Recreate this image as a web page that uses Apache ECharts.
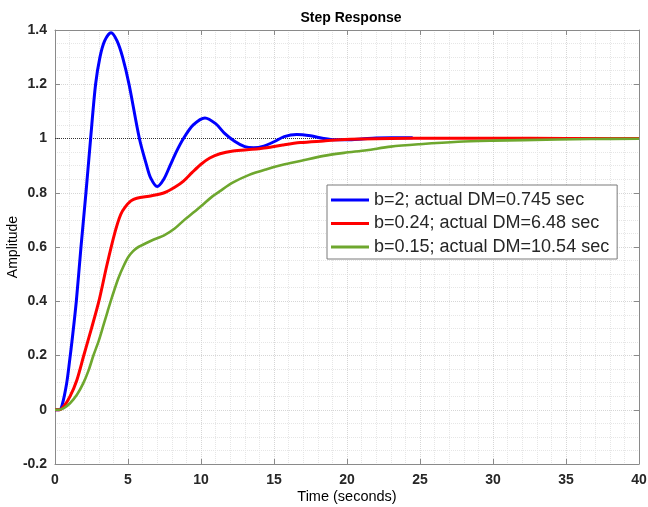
<!DOCTYPE html>
<html>
<head>
<meta charset="utf-8">
<script src="https://cdn.jsdelivr.net/npm/echarts@6/dist/echarts.min.js"></script>
<style>
  html, body { margin: 0; padding: 0; background: #fff; }
  #container1 { width: 648px; height: 507px; }
</style>
</head>
<body>
<div id="container1"></div>
<script>
// step response values, [time, amplitude]
var blueData = [
  [0, 0], [0.3, 0], [0.5, 0.02], [0.8, 0.098], [1.0, 0.18], [1.2, 0.27], [1.46, 0.4],
  [1.78, 0.6], [2.12, 0.8], [2.44, 1.0], [2.78, 1.2], [3.08, 1.3], [3.4, 1.36],
  [3.84, 1.39], [4.25, 1.36], [4.63, 1.3], [5.07, 1.2], [5.78, 1.0], [6.28, 0.9],
  [6.55, 0.855], [7.0, 0.823], [7.45, 0.85], [7.88, 0.9], [8.3, 0.95], [8.8, 1.0],
  [9.47, 1.05], [10.27, 1.076], [11.0, 1.055], [11.6, 1.02], [12.3, 0.99], [13.0, 0.97],
  [13.6, 0.966], [14.3, 0.972], [15.0, 0.988], [15.7, 1.007], [16.55, 1.015],
  [17.5, 1.01], [18.4, 1.0], [19.2, 0.995], [20.0, 0.995], [21, 0.998],
  [22, 1.002], [23, 1.003], [24.5, 1.003]
];
var redData = [
  [0, 0], [0.3, 0], [0.6, 0.012], [1.03, 0.049], [1.5, 0.11], [1.97, 0.2], [2.5, 0.3],
  [3.05, 0.41], [3.54, 0.53], [4.11, 0.655], [4.5, 0.72], [4.79, 0.746], [5.2, 0.77],
  [5.6, 0.78], [6.62, 0.789], [7.53, 0.801], [8.2, 0.82], [8.8, 0.843], [9.4, 0.875],
  [10, 0.905], [10.6, 0.928], [11.3, 0.944], [12.2, 0.954], [13.5, 0.96], [14.5, 0.966],
  [15.6, 0.976], [16.8, 0.985], [18.4, 0.991], [19.5, 0.995], [21, 0.998], [23, 1.0],
  [26, 1.001], [30, 1.001], [35, 1.0], [40, 1.0]
];
var greenData = [
  [0, 0], [0.3, 0], [0.6, 0.006], [1.03, 0.024], [1.5, 0.055], [1.94, 0.098],
  [2.3, 0.145], [2.63, 0.2], [3.0, 0.255], [3.31, 0.31], [3.6, 0.362], [3.92, 0.418],
  [4.34, 0.485], [4.7, 0.53], [5.02, 0.563], [5.35, 0.585], [5.71, 0.6], [6.62, 0.624],
  [7.53, 0.645], [8.2, 0.668], [8.86, 0.7], [9.5, 0.728], [10.16, 0.758], [10.7, 0.783],
  [11.3, 0.806], [12.2, 0.838], [13.3, 0.866], [14.5, 0.887], [15.6, 0.903],
  [16.8, 0.917], [18.4, 0.936], [19.8, 0.947], [21.35, 0.957], [23, 0.97], [25, 0.979],
  [27.6, 0.988], [30, 0.992], [32.1, 0.994], [36.7, 0.998], [40, 0.999]
];
var steadyState = [[0, 1], [40, 1]];
var seriesNames = [
  'b=2; actual DM=0.745 sec',
  'b=0.24; actual DM=6.48 sec',
  'b=0.15; actual DM=10.54 sec'
];

var dom = document.getElementById("container1");
var myChart = echarts.init(dom);
var axisCol = '#8a8a8a';
var fontFam = 'Liberation Sans, Arial, sans-serif';
var labelStyle = { color: '#262626', fontWeight: 'bold', fontSize: 14, fontFamily: fontFam };

function frameAxis(extra) {
  return Object.assign({
    type: 'value',
    axisLine: { show: true, onZero: false, lineStyle: { color: axisCol, width: 1 } },
    axisTick: { show: true, inside: true, length: 5, lineStyle: { color: axisCol } },
    splitLine: { show: false },
    axisLabel: { show: false }
  }, extra);
}

var option = {
  animation: false,
  title: {
    text: 'Step Response',
    left: 346,
    textAlign: 'center',
    top: 6,
    textStyle: { fontSize: 14, fontWeight: 'bold', color: '#000', fontFamily: fontFam }
  },
  grid: { left: 55, right: 9, top: 30, bottom: 43, outerBoundsMode: 'none' },
  legend: {
    left: 327,
    top: 185,
    orient: 'vertical',
    data: seriesNames,
    icon: 'rect',
    itemWidth: 38,
    itemHeight: 3,
    itemGap: 5.5,
    padding: [6, 8, 3, 4],
    backgroundColor: '#fff',
    borderColor: '#7a7a7a',
    borderWidth: 1,
    textStyle: { fontSize: 18, lineHeight: 18, color: '#262626', fontFamily: fontFam }
  },
  xAxis: [
    frameAxis({
      min: 0, max: 40, interval: 5,
      name: 'Time (seconds)',
      nameLocation: 'middle',
      nameGap: 25,
      nameMoveOverlap: false,
      nameTextStyle: { fontSize: 14.5, color: '#000', fontFamily: fontFam },
      axisLabel: Object.assign({ show: true, margin: 9 }, labelStyle),
      splitLine: { show: true, lineStyle: { color: '#d6d6d6', type: 'dotted', width: 1 } },
      minorTick: { show: false, splitNumber: 5 },
      minorSplitLine: { show: true, lineStyle: { color: '#e6e6e6', type: 'dotted', width: 1 } }
    }),
    frameAxis({ position: 'top', min: 0, max: 40, interval: 5 })
  ],
  yAxis: [
    frameAxis({
      min: -0.2, max: 1.4, interval: 0.2,
      name: 'Amplitude',
      nameLocation: 'middle',
      nameGap: 35,
      nameMoveOverlap: false,
      nameTextStyle: { fontSize: 14, color: '#000', fontFamily: fontFam },
      axisLabel: Object.assign({ show: true, margin: 8 }, labelStyle),
      splitLine: { show: true, lineStyle: { color: '#d6d6d6', type: 'dotted', width: 1 } },
      minorTick: { show: false, splitNumber: 4 },
      minorSplitLine: { show: true, lineStyle: { color: '#e6e6e6', type: 'dotted', width: 1 } }
    }),
    frameAxis({ position: 'right', min: -0.2, max: 1.4, interval: 0.2 })
  ],
  series: [
    {
      name: 'steady',
      type: 'line',
      data: steadyState,
      symbol: 'none',
      silent: true,
      z: 1,
      lineStyle: { color: '#333', width: 1, type: 'dotted' }
    },
    {
      name: seriesNames[0],
      type: 'line',
      data: blueData,
      smooth: 0.3,
      symbol: 'none',
      z: 3,
      itemStyle: { color: '#0000ff' },
      lineStyle: { color: '#0000ff', width: 3 }
    },
    {
      name: seriesNames[1],
      type: 'line',
      data: redData,
      smooth: 0.3,
      symbol: 'none',
      z: 4,
      itemStyle: { color: '#ff0000' },
      lineStyle: { color: '#ff0000', width: 3 }
    },
    {
      name: seriesNames[2],
      type: 'line',
      data: greenData,
      smooth: 0.3,
      symbol: 'none',
      z: 5,
      itemStyle: { color: '#6ea72e' },
      lineStyle: { color: '#6ea72e', width: 2.6 }
    }
  ]
};

if (option && typeof option === "object") {
  myChart.setOption(option, true);
}
window.addEventListener("resize", () => {
  myChart.resize();
});
</script>
</body>
</html>
